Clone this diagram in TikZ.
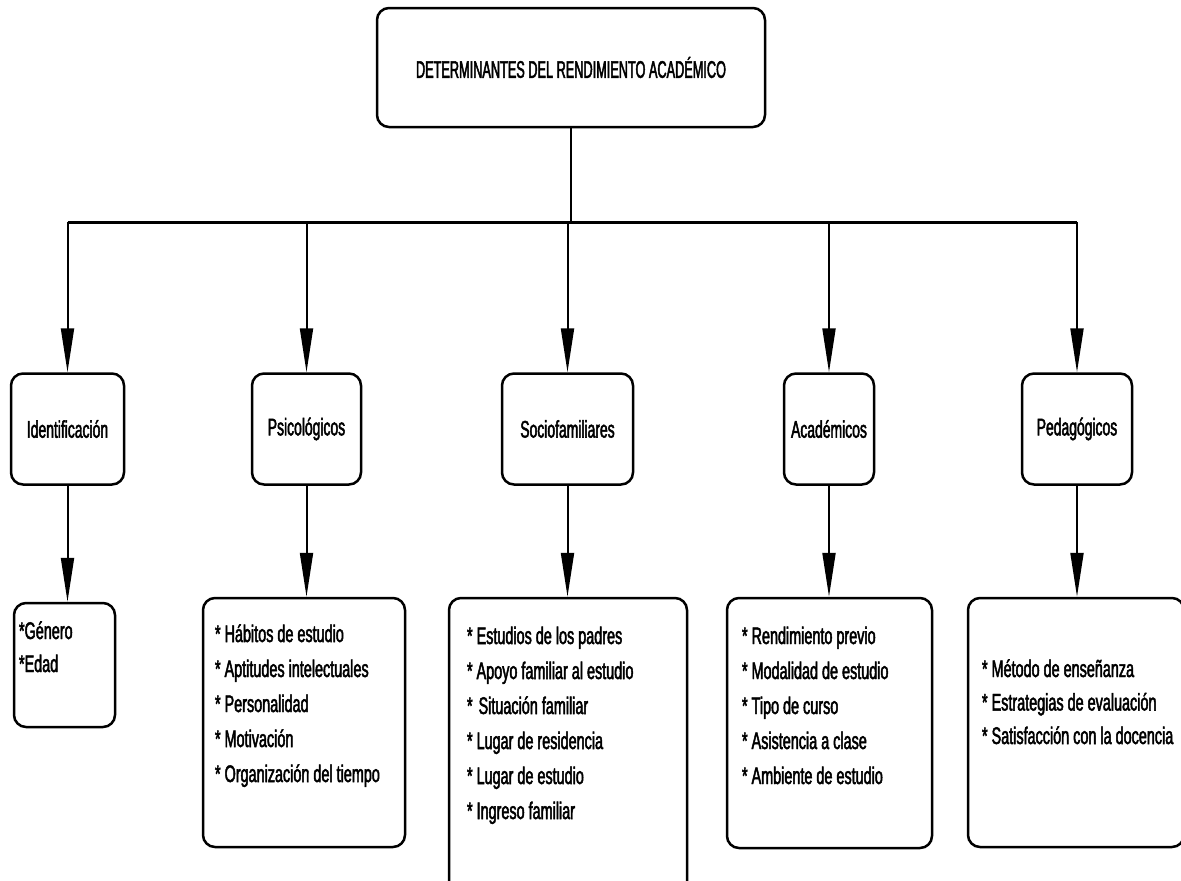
\documentclass[tikz,border=0pt]{standalone}
\usepackage{fontspec}
\setmainfont{Liberation Sans}[FakeStretch=0.58, FakeBold=2]
\newfontfamily\titlefont{Liberation Sans}[FakeStretch=0.53, FakeBold=2]
\newfontfamily\listfont{Liberation Sans}[FakeStretch=0.6, FakeBold=2]
\usetikzlibrary{arrows.meta}
% width, height, left pad, first baseline, lines
\newcommand{\boxlist}[5]{\parbox[c][#2][t]{#1}{\listfont\raggedright\leftskip=#3\relax\rule{0pt}{#4}#5}}

\begin{document}
\begin{tikzpicture}[x=1pt, y=-1pt,
    box/.style={draw, line width=2.5pt, rounded corners=12pt, inner sep=0pt,
      minimum height=111pt, font=\fontsize{24}{35}\selectfont},
    conn/.style={line width=2pt},
    arr/.style={line width=2pt, -{Triangle[length=44pt, width=13pt]}}]
    \clip (0,0) rectangle (1181,881);

    \node[box, minimum width=388pt, minimum height=119pt] (title) at (571,67.5) {\titlefont DETERMINANTES DEL RENDIMIENTO ACADÉMICO};
    \coordinate (bus) at (571,222);

    \node[box, minimum width=113pt] (ident) at (67.5,429) {Identificación};
    \node[box, minimum width=109pt] (psico) at (306.5,429) {Psicológicos};
    \node[box, minimum width=131pt] (socio) at (567.5,429) {Sociofamiliares};
    \node[box, minimum width=90pt] (acad) at (829,429) {Académicos};
    \node[box, minimum width=110pt] (peda) at (1077,429) {Pedagógicos};

    \node[box, font=\fontsize{24}{33}\selectfont] (identList) at (64.5,665)
      {\boxlist{101pt}{124pt}{5pt}{36pt}{*Género\par *Edad}};
    \node[box] (psicoList) at (304,722.5)
      {\boxlist{202pt}{249pt}{12pt}{44pt}{* Hábitos de estudio\par * Aptitudes intelectuales\par * Personalidad\par * Motivación\par * Organización del tiempo}};
    \node[box] (socioList) at (568,746.5)
      {\boxlist{238pt}{297pt}{18pt}{46pt}{* Estudios de los padres\par * Apoyo familiar al estudio\par * \kern2pt Situación familiar\par * Lugar de residencia\par * Lugar de estudio\par * Ingreso familiar}};
    \node[box] (acadList) at (829.5,723)
      {\boxlist{205pt}{250pt}{15pt}{46pt}{* Rendimiento previo\par * Modalidad de estudio\par * Tipo de curso\par * Asistencia a clase\par * Ambiente de estudio}};
    \node[box, font=\fontsize{24}{33.5}\selectfont] (pedaList) at (1076,722.5)
      {\boxlist{216pt}{249pt}{14pt}{79pt}{* Método de enseñanza\par * Estrategias de evaluación\par * Satisfacción con la docencia}};

    % connectors
    \draw[conn] (title.south) -- (bus);
    \draw[line width=3pt] (ident.north |- bus) -- (peda.north |- bus);
    \foreach \n in {ident,psico,socio,acad,peda} {
      \draw[arr] (\n.north |- bus) -- (\n.north);
      \draw[arr] (\n.south) -- (\n.south |- \n List.north);
    }
\end{tikzpicture}
\end{document}
